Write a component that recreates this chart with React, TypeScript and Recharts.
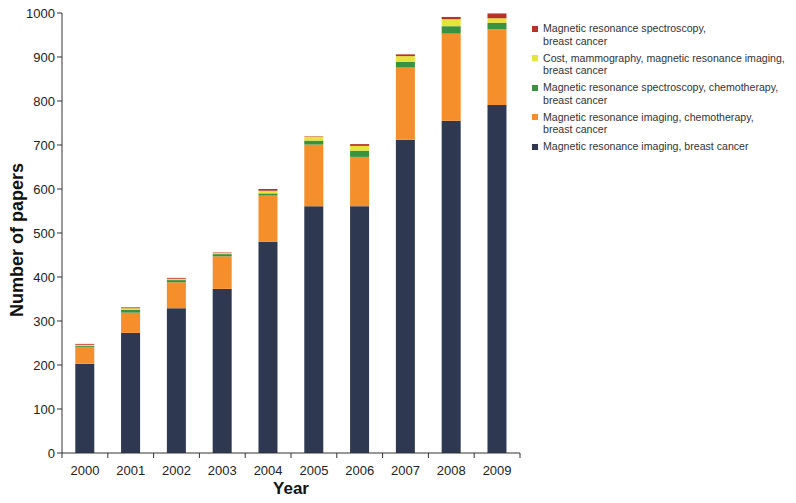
import { BarChart, Bar, XAxis, YAxis } from 'recharts';

if (typeof document !== 'undefined') document.body.style.margin = '0';

// Papers per year, one array per search query (stack order bottom -> top)
const YEARS = ['2000', '2001', '2002', '2003', '2004', '2005', '2006', '2007', '2008', '2009'];
const MRI_BREAST = [203, 273, 329, 373, 480, 561, 561, 712, 755, 791];
const MRI_CHEMO = [37, 46, 59, 74, 105, 140, 112, 165, 198, 172];
const MRS_CHEMO = [3, 6, 5, 5, 5, 9, 14, 12, 17, 15];
const COST_MAMMO = [3, 4, 3, 3, 6, 9, 11, 13, 16, 10];
const MRS_BREAST = [2, 2, 2, 1, 4, 1, 4, 4, 5, 11];
const Y_TICKS = [0, 100, 200, 300, 400, 500, 600, 700, 800, 900, 1000];

const SERIES = [
  { key: 'mriBreast', color: '#2e3850', lines: ['Magnetic resonance imaging, breast cancer'] },
  { key: 'mriChemo', color: '#f48f2c', lines: ['Magnetic resonance imaging, chemotherapy,', 'breast cancer'] },
  { key: 'mrsChemo', color: '#38923f', lines: ['Magnetic resonance spectroscopy, chemotherapy,', 'breast cancer'] },
  { key: 'costMammo', color: '#e6e33a', lines: ['Cost, mammography, magnetic resonance imaging,', 'breast cancer'] },
  { key: 'mrsBreast', color: '#b83228', lines: ['Magnetic resonance spectroscopy,', 'breast cancer'] },
];

const data = YEARS.map((year, i) => ({
  year,
  mriBreast: MRI_BREAST[i],
  mriChemo: MRI_CHEMO[i],
  mrsChemo: MRS_CHEMO[i],
  costMammo: COST_MAMMO[i],
  mrsBreast: MRS_BREAST[i],
}));

const FONT = '"Liberation Sans", Arial, sans-serif';
const AXIS = '#333333';
const W = 796;
const H = 503;
const MARGIN = { top: 13, right: 276, bottom: 0, left: 0 };
const Y_AXIS_W = 62;
const BAND = (W - MARGIN.left - MARGIN.right - Y_AXIS_W) / YEARS.length;

function YearTick(props: any) {
  const { x, y, payload, index } = props;
  const axisY = y - 10;
  const left = x - BAND / 2;
  return (
    <g>
      <line x1={left} y1={axisY} x2={left} y2={axisY + 5} stroke={AXIS} />
      {index === YEARS.length - 1 && (
        <line x1={left + BAND} y1={axisY} x2={left + BAND} y2={axisY + 5} stroke={AXIS} />
      )}
      <text x={x} y={y} dy={12} textAnchor="middle" fontSize={13} fill="#222" fontFamily={FONT}>
        {payload.value}
      </text>
    </g>
  );
}

function LegendBox() {
  const items = [...SERIES].reverse();
  return (
    <div
      style={{
        position: 'absolute',
        left: 532,
        top: 22,
        fontFamily: FONT,
        fontSize: 10.6,
        color: '#333',
        lineHeight: '12.5px',
      }}
    >
      {items.map((s) => (
        <div key={s.key} style={{ display: 'flex', alignItems: 'flex-start', marginBottom: 4.5 }}>
          <span
            style={{
              width: 6,
              height: 6,
              background: s.color,
              marginTop: 3.5,
              marginRight: 5,
              flexShrink: 0,
            }}
          />
          <span>
            {s.lines.map((l) => (
              <div key={l} style={{ whiteSpace: 'nowrap' }}>{l}</div>
            ))}
          </span>
        </div>
      ))}
    </div>
  );
}

export default function App() {
  return (
    <div style={{ position: 'relative', width: W, height: H, background: '#fff', fontFamily: FONT }}>
      <BarChart width={W} height={H} data={data} margin={MARGIN} barCategoryGap="29%">
        <XAxis
          dataKey="year"
          height={50}
          axisLine={{ stroke: AXIS }}
          tickLine={false}
          tickSize={0}
          tickMargin={10}
          interval={0}
          tick={<YearTick />}
          label={{
            content: ({ viewBox }: any) => (
              <text
                x={viewBox.x + viewBox.width / 2}
                y={488}
                dy={6}
                textAnchor="middle"
                fontSize={17}
                fontWeight="bold"
                fill="#111"
                fontFamily={FONT}
              >
                Year
              </text>
            ),
          }}
        />
        <YAxis
          width={Y_AXIS_W}
          domain={[0, 1000]}
          ticks={Y_TICKS}
          interval={0}
          axisLine={{ stroke: AXIS }}
          tickLine={{ stroke: AXIS }}
          tickSize={5}
          tickMargin={2}
          tick={{ fontSize: 13, fill: '#222', fontFamily: FONT }}
          label={{
            content: () => (
              <text
                x={17}
                y={240}
                dy={6}
                transform="rotate(-90 17 240)"
                textAnchor="middle"
                fontSize={18}
                fontWeight="bold"
                fill="#111"
                fontFamily={FONT}
              >
                Number of papers
              </text>
            ),
          }}
        />
        {SERIES.map((s) => (
          <Bar key={s.key} dataKey={s.key} stackId="papers" fill={s.color} isAnimationActive={false} />
        ))}
      </BarChart>
      <LegendBox />
    </div>
  );
}
